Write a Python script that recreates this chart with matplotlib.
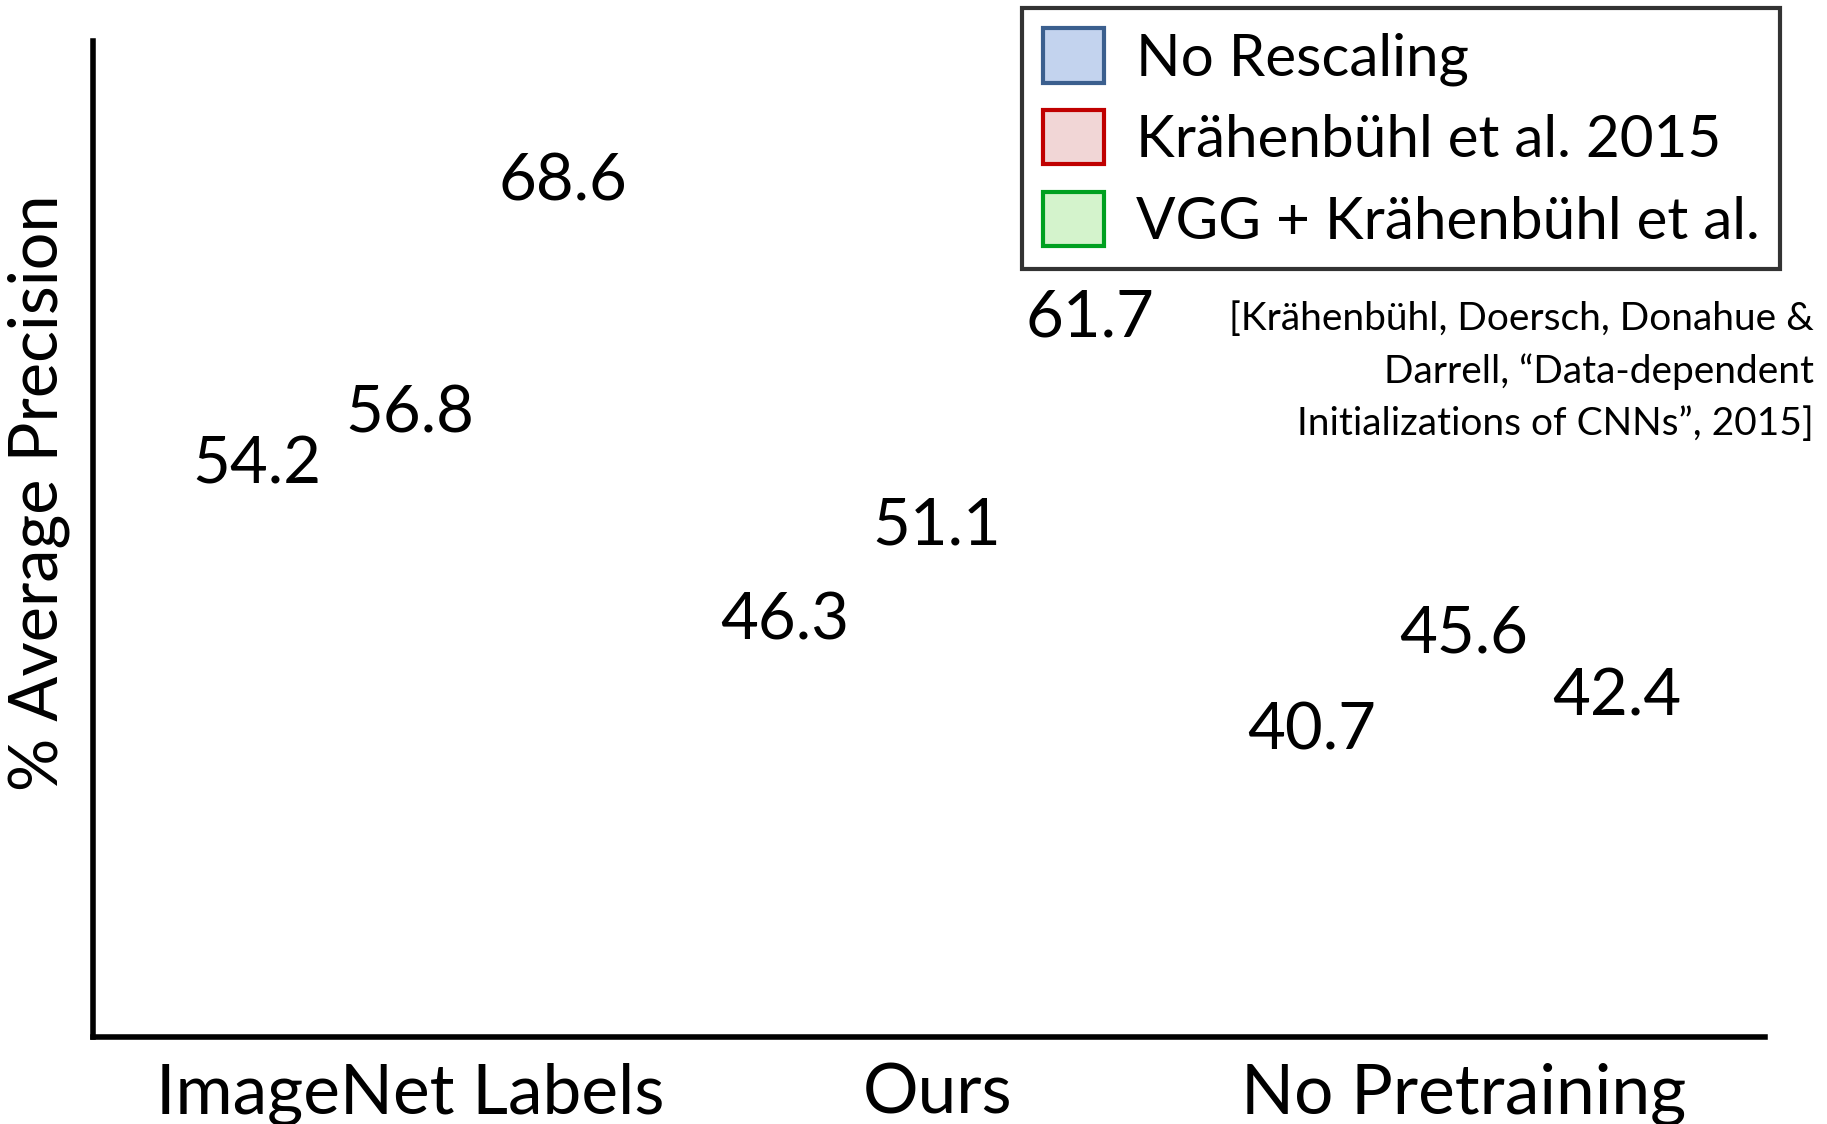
import numpy as np
import matplotlib.pyplot as plt
from matplotlib.patches import Patch

categories = ["ImageNet Labels", "Ours", "No Pretraining"]
series = ["No Rescaling", "Krähenbühl et al. 2015", "VGG + Krähenbühl et al."]
no_rescaling = [54.2, 46.3, 40.7]
krahenbuhl = [56.8, 51.1, 45.6]
vgg_krahenbuhl = [68.6, 61.7, 42.4]

edge_colors = ["#3B5F8E", "#C00000", "#00A020"]
fill_colors = ["#C3D3EE", "#F1D6D6", "#D4F3CC"]

plt.rcParams['font.family'] = ['Lato', 'DejaVu Sans']

fig = plt.figure(figsize=(18.27, 11.24), dpi=100)
ax = fig.add_axes([93/1827, 1-1037/1124, (1765-93)/1827, (1037-41)/1124])

x = np.arange(len(categories))
w = 0.29
for i, vals in enumerate([no_rescaling, krahenbuhl, vgg_krahenbuhl]):
    xs = x + (i-1)*w
    # bars hidden in the original slide build, only their values show
    ax.bar(xs, vals, width=w*0.8, color='white', edgecolor='none')
    for xx, v in zip(xs, vals):
        ax.text(xx, v, "%.1f" % v, ha='center', va='center', fontsize=47)

ax.set_xlim(-0.602, 2.571)
ax.set_ylim(25.1, 75.8)
ax.set_xticks(x)
ax.set_xticklabels(categories, fontsize=50)
ax.set_yticks([])
ax.tick_params(axis='x', length=0, pad=18)
for s in ['top', 'right']:
    ax.spines[s].set_visible(False)
for s in ['left', 'bottom']:
    ax.spines[s].set_linewidth(4)
ax.set_ylabel("% Average Precision", fontsize=48)
ax.yaxis.set_label_coords(-0.014, 0.547)

handles = [Patch(facecolor=f, edgecolor=e, linewidth=3) for f, e in zip(fill_colors, edge_colors)]
leg = fig.legend(handles, series, loc='upper right', bbox_to_anchor=(1780/1827, 1-8/1124),
                 fontsize=42, frameon=True, fancybox=False, handlelength=1.05, handleheight=1.05,
                 handletextpad=0.55, borderpad=0.35, labelspacing=0.42, borderaxespad=0)
leg.get_frame().set_edgecolor('black')
leg.get_frame().set_linewidth(3)

fig.text(1814/1827, 1-301/1124,
         "[Krähenbühl, Doersch, Donahue &\nDarrell, \u201cData-dependent\nInitializations of CNNs\u201d, 2015]",
         ha='right', va='top', fontsize=28, linespacing=1.55)

fig.savefig("out.png", dpi=100)
